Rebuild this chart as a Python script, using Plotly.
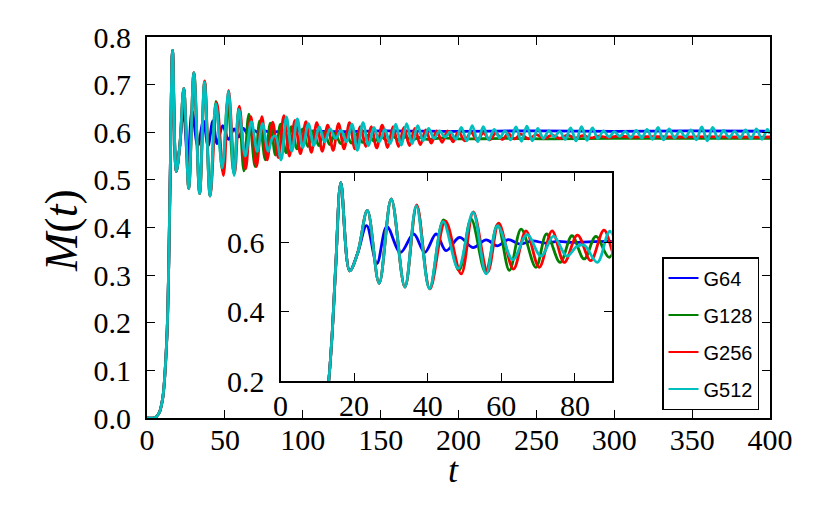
import plotly.graph_objects as go

# ---------------- data (extrema of each curve) ----------------
T_START = [0, 4, 6, 8, 10, 11, 12, 13, 14, 15, 16.4, 18.8, 21.0]
M_START = [0.0, 0.0, 0.003, 0.012, 0.04, 0.07, 0.12, 0.19, 0.33, 0.53, 0.772, 0.518, 0.570]

T_G64 = [23.4, 26.2, 28.9, 32.6, 36.2, 39.2, 42.3, 45.0, 48.6, 52.3, 55.9, 58.9, 61.9, 65.0,
         68.5, 72.0, 75.5, 79.0, 85, 100, 120, 150, 200, 250, 300, 350, 400]
M_G64 = [0.648, 0.539, 0.645, 0.571, 0.624, 0.571, 0.624, 0.576, 0.614, 0.585, 0.607, 0.590,
         0.608, 0.595, 0.604, 0.598, 0.603, 0.600, 0.602, 0.603, 0.601, 0.603, 0.602, 0.603,
         0.602, 0.603, 0.602]

T_G128 = [23.6, 26.8, 30.1, 33.8, 37.0, 40.5, 44.3, 48.5, 51.8, 55.7, 59.0, 62.2, 65.4, 69.4,
          72.3, 76.0, 79.2, 82.5, 85.7, 89.3, 92.8, 96.3, 99.8, 103.3, 106.8, 110.3, 113.8,
          117.3, 120.8, 124.3, 127.8, 131.3, 134.8, 138.3, 142, 146, 150, 154, 158, 162, 166,
          170, 175, 180, 190, 200, 230, 260, 300, 350, 400]
M_G128 = [0.692, 0.482, 0.725, 0.471, 0.705, 0.466, 0.665, 0.519, 0.667, 0.514, 0.652, 0.519,
          0.638, 0.528, 0.624, 0.542, 0.619, 0.552, 0.617, 0.557, 0.612, 0.565, 0.607, 0.570,
          0.603, 0.572, 0.600, 0.574, 0.598, 0.576, 0.597, 0.577, 0.596, 0.579, 0.594, 0.581,
          0.592, 0.582, 0.591, 0.583, 0.590, 0.584, 0.589, 0.585, 0.588, 0.586, 0.587, 0.586,
          0.587, 0.587, 0.587]

T_G256 = [23.6, 26.8, 30.1, 33.8, 37.0, 40.6, 44.8, 49.1, 52.4, 56.3, 59.3, 63.3, 66.7, 70.3,
          73.8, 77.1, 80.7, 84.3, 87.9, 91.4, 95.0, 98.5, 102.0, 105.5, 109.0, 112.5, 116.0,
          119.5, 123.0, 126.5, 130.0, 133.5, 137.0, 140.5, 144.0, 147.5, 151.0, 154.5, 158.0,
          161.5, 165.0, 168.5, 172.0, 175.5, 179, 182.5, 186, 189.5, 193, 196.5, 200, 204, 208,
          212, 216, 220, 224, 228, 232, 236, 240, 245, 250, 255, 260, 265, 270, 275, 280, 285,
          290, 296, 302, 310, 320, 340, 360, 380, 400]
M_G256 = [0.692, 0.482, 0.725, 0.471, 0.708, 0.466, 0.662, 0.509, 0.688, 0.514, 0.655, 0.523,
          0.633, 0.528, 0.633, 0.542, 0.621, 0.547, 0.635, 0.550, 0.625, 0.555, 0.622, 0.558,
          0.620, 0.560, 0.615, 0.562, 0.618, 0.565, 0.620, 0.565, 0.612, 0.570, 0.612, 0.567,
          0.615, 0.568, 0.612, 0.570, 0.610, 0.572, 0.608, 0.574, 0.605, 0.577, 0.603, 0.579,
          0.603, 0.580, 0.601, 0.582, 0.600, 0.583, 0.599, 0.584, 0.598, 0.585, 0.597, 0.586,
          0.596, 0.586, 0.595, 0.587, 0.594, 0.587, 0.594, 0.588, 0.593, 0.588, 0.592, 0.589,
          0.592, 0.590, 0.591, 0.590, 0.591, 0.590, 0.590]

T_G512 = [23.6, 26.8, 30.1, 33.8, 36.9, 40.5, 44.2, 48.3, 52.3, 55.9, 59.0, 63.1, 67.0, 70.8,
          74.2, 77.8, 80.5, 82.5, 86.1, 89.5, 93.0, 96.5, 100.0, 103.6, 107.1, 110.6, 114.1,
          117.6, 121.1, 124.6, 128.1, 131.6, 135.1, 138.7, 142.2, 145.7, 149.2, 152.7, 156.2,
          159.7, 163.2, 166.7, 170.2, 173.8, 177.3, 180.8, 184.3, 187.8, 191.3, 194.8, 198.3,
          201.8, 205.3, 208.8, 212.4, 215.9, 219.4, 222.9, 226.4, 229.9, 233.4, 236.9, 240.4,
          243.9, 247.4, 250.9, 254.5, 258.0, 261.5, 265.0, 268.5, 272.0, 275.5, 279.0, 282.5,
          286.0, 289.5, 293.1, 296.6, 300.1, 303.6, 307.1, 310.6, 314.1, 317.6, 321.1, 324.6,
          328.1, 331.6, 335.2, 338.7, 342.2, 345.7, 349.2, 352.7, 356.2, 359.7, 363.2, 366.7,
          370.2, 373.7, 377.3, 380.8, 384.3, 387.8, 391.3, 394.8, 398.3, 400]
M_G512 = [0.692, 0.482, 0.725, 0.471, 0.705, 0.466, 0.660, 0.525, 0.686, 0.509, 0.648, 0.550,
          0.622, 0.560, 0.618, 0.560, 0.588, 0.592, 0.542, 0.632, 0.560, 0.628, 0.568, 0.618,
          0.572, 0.612, 0.580, 0.607, 0.587, 0.604, 0.580, 0.617, 0.562, 0.620, 0.572, 0.610,
          0.580, 0.606, 0.576, 0.617, 0.573, 0.618, 0.576, 0.614, 0.582, 0.608, 0.587, 0.603,
          0.590, 0.601, 0.585, 0.610, 0.582, 0.614, 0.580, 0.612, 0.584, 0.606, 0.588, 0.603,
          0.584, 0.611, 0.581, 0.613, 0.582, 0.608, 0.587, 0.603, 0.590, 0.602, 0.585, 0.609,
          0.582, 0.612, 0.583, 0.609, 0.587, 0.603, 0.590, 0.601, 0.591, 0.602, 0.589, 0.604,
          0.588, 0.606, 0.585, 0.610, 0.584, 0.607, 0.588, 0.603, 0.590, 0.605, 0.584, 0.611,
          0.582, 0.610, 0.586, 0.604, 0.589, 0.602, 0.588, 0.605, 0.586, 0.607, 0.585, 0.606,
          0.597]

NAMES = ["G64", "G128", "G256", "G512"]
COLORS = ["#0000ff", "#008000", "#ff0000", "#00bfbf"]
SERIES_T = [T_G64, T_G128, T_G256, T_G512]
SERIES_M = [M_G64, M_G128, M_G256, M_G512]

MAIN_XTICKS = [0, 50, 100, 150, 200, 250, 300, 350, 400]
MAIN_YTICKS = [0.0, 0.1, 0.2, 0.3, 0.4, 0.5, 0.6, 0.7, 0.8]
INSET_XTICKS = [0, 20, 40, 60, 80]
INSET_YTICKS = [0.2, 0.4, 0.6]

# ---------------- figure ----------------
SERIF = "Liberation Serif"
fig = go.Figure()

for name, col, ts, ms in zip(NAMES, COLORS, SERIES_T, SERIES_M):
    fig.add_trace(go.Scatter(
        x=T_START + ts, y=M_START + ms, mode="lines", name=name,
        line=dict(color=col, width=2.8, shape="spline", smoothing=1.0),
        xaxis="x", yaxis="y", showlegend=False))

for name, col, ts, ms in zip(NAMES, COLORS, SERIES_T, SERIES_M):
    fig.add_trace(go.Scatter(
        x=T_START + ts, y=M_START + ms, mode="lines", name=name,
        line=dict(color=col, width=2.8, shape="spline", smoothing=1.0),
        xaxis="x2", yaxis="y2", showlegend=False))

# legend entries (thin line keys, as in the reference legend)
for name, col in zip(NAMES, COLORS):
    fig.add_trace(go.Scatter(
        x=[None], y=[None], mode="lines", name=name,
        line=dict(color=col, width=2), xaxis="x", yaxis="y",
        legendgroup=name, showlegend=True))

axis_common = dict(showline=True, linecolor="black", linewidth=2, mirror="ticks",
                   ticks="inside", tickcolor="black", tickwidth=1.3, showgrid=False,
                   zeroline=False, automargin=False,
                   tickfont=dict(family=SERIF, size=30, color="black"))

fig.update_layout(
    width=830, height=523, autosize=False,
    margin=dict(l=0, r=0, t=0, b=0, pad=0),
    paper_bgcolor="white", plot_bgcolor="white",
    xaxis=dict(domain=[147/830, 770/830], range=[0, 400], tickvals=MAIN_XTICKS,
               ticklen=8, ticklabelstandoff=-6, anchor="y", **axis_common),
    yaxis=dict(domain=[(523-418)/523, (523-37)/523], range=[0, 0.8], tickvals=MAIN_YTICKS,
               tickformat=".1f", ticklen=8, ticklabelstandoff=8, anchor="x", **axis_common),
    xaxis2=dict(domain=[280.5/830, 611.7/830], range=[0, 90], tickvals=INSET_XTICKS,
                ticklen=8, ticklabelstandoff=-3, anchor="y2", **axis_common),
    yaxis2=dict(domain=[(523-381)/523, (523-173)/523], range=[0.2, 0.8], tickvals=INSET_YTICKS,
                tickformat=".1f", ticklen=8, ticklabelstandoff=8, anchor="x2", **axis_common),
    showlegend=True,
    legend=dict(x=759/830, y=(523-257)/523, xanchor="right", yanchor="top",
                bgcolor="white", bordercolor="black", borderwidth=1.5,
                font=dict(family="Liberation Sans", size=20, color="black"),
                tracegroupgap=8, itemwidth=30),
    shapes=[dict(type="rect", xref="x2 domain", yref="y2 domain", x0=0, x1=1, y0=0, y1=1,
                 fillcolor="white", line=dict(width=0), layer="below")],
    annotations=[
        dict(text="<i>M</i>(<i>t</i>)", x=62/830, y=(523-231)/523, xref="paper", yref="paper",
             xanchor="center", yanchor="middle", showarrow=False, textangle=-90,
             font=dict(family=SERIF, size=46, color="black")),
        dict(text="<i>t</i>", x=453/830, y=(523-470)/523, xref="paper", yref="paper",
             xanchor="center", yanchor="middle", showarrow=False,
             font=dict(family=SERIF, size=36, color="black")),
    ],
)

fig.write_html("out.html", config={"displayModeBar": False},
               post_script="document.body.style.margin='0px';")
